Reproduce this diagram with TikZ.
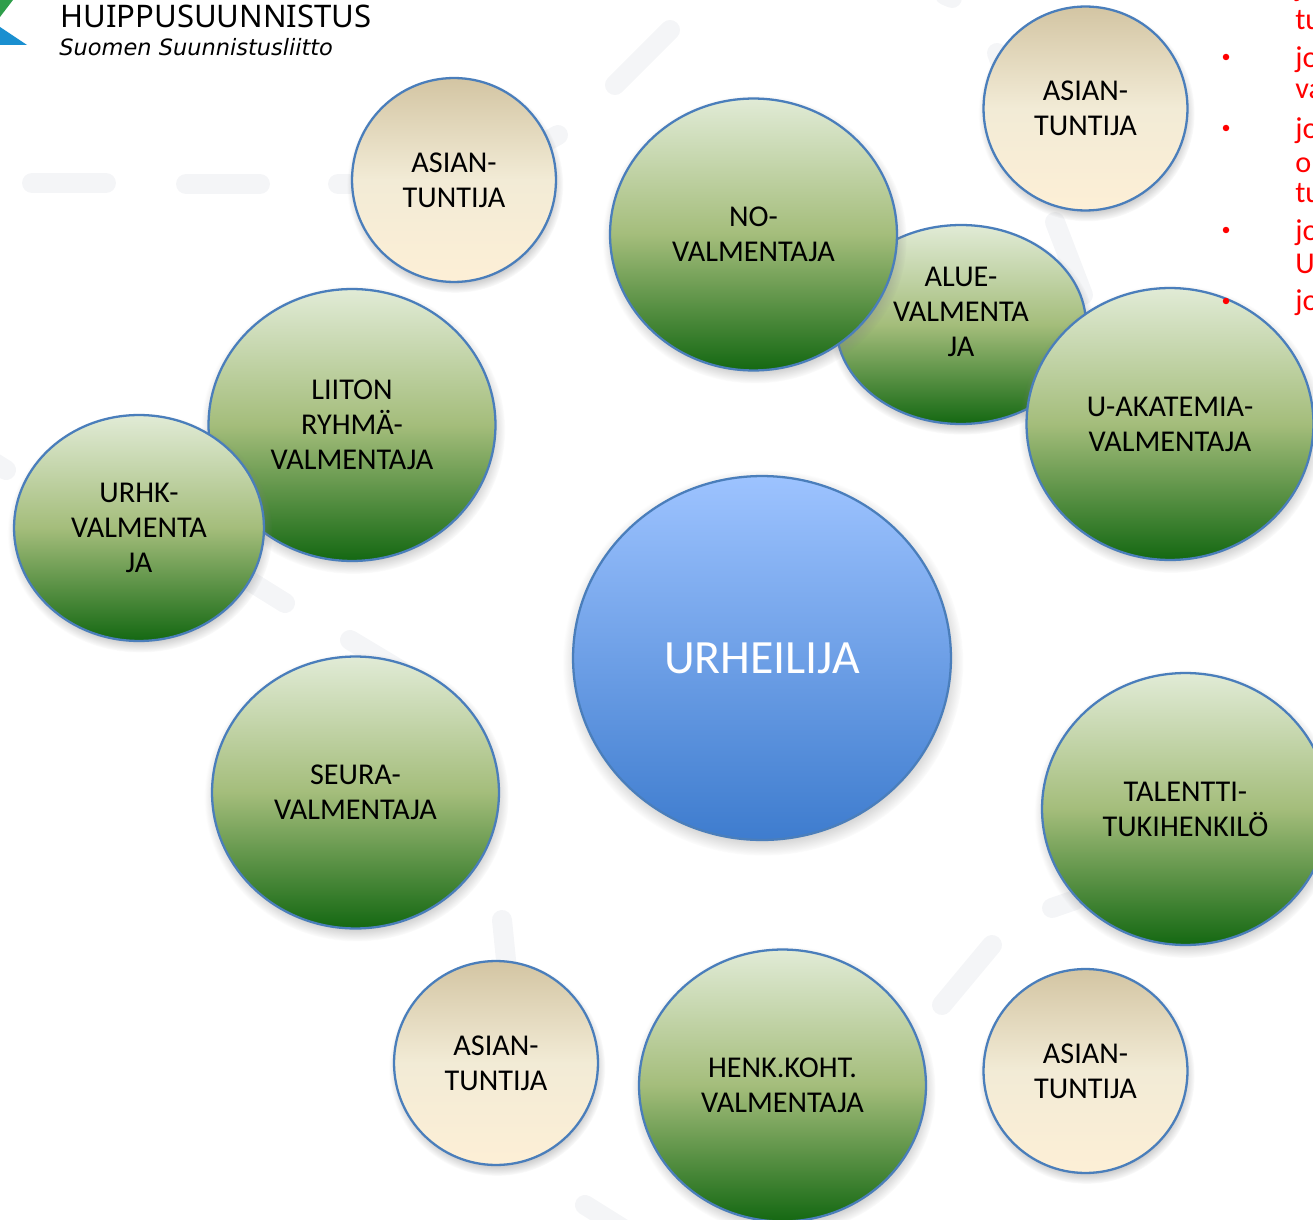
\documentclass[tikz,border=0pt]{standalone}
\usepackage{fontspec}
\setmainfont{Carlito}
\newfontfamily\logofont{Noto Sans}
\newfontfamily\logosub{DejaVu Sans}
\usetikzlibrary{shapes.geometric,shadows}
\definecolor{rimblue}{HTML}{4A7EBB}
\definecolor{faint}{HTML}{F4F5F7}
\definecolor{bulletred}{HTML}{FF0000}
\definecolor{greentop}{HTML}{E1EBD6}
\definecolor{greenmid}{HTML}{A4BD7B}
\definecolor{greenlow}{HTML}{146812}
\definecolor{sandtop}{HTML}{D3C5A3}
\definecolor{sandmid}{HTML}{F2EBD6}
\definecolor{sandlow}{HTML}{FDEFD6}
\definecolor{skytop}{HTML}{9DC3FF}
\definecolor{skylow}{HTML}{3E7CCE}
\definecolor{logogreen}{HTML}{2E9E4A}
\definecolor{logoblue}{HTML}{1A8FD0}
\tikzset{
	ball/.style={ellipse,draw=rimblue,line width=1.3pt,inner sep=0pt,align=center,text depth=-0.04cm,font=\fontsize{17.2}{19.9}\selectfont,
		circular drop shadow={shadow xshift=0.02cm,shadow yshift=-0.09cm,shadow scale=1.06,opacity=0.6}},
	green node/.style={ball,top color=greentop,bottom color=greenlow,middle color=greenmid},
	sand node/.style={ball,minimum width=4.08cm,minimum height=4.08cm,top color=sandtop,bottom color=sandlow,middle color=sandmid},
	blue node/.style={ball,top color=skytop,bottom color=skylow,text=white,font=\fontsize{27.2}{30}\selectfont},
	big node/.style={green node,minimum width=5.74cm,minimum height=5.44cm},
	faint dash/.style={draw=faint,line width=0.4cm,line cap=round},
	red text/.style={text=bulletred,anchor=west,inner sep=0pt,font=\fontsize{17.2}{20}\selectfont}
}
\begin{document}
\begin{tikzpicture}[x=0.02cm,y=-0.02cm]
	\useasboundingbox (0,0) rectangle (1313,1220);
	\clip (0,0) rectangle (1313,1220);
	
	% watermark
	\draw[faint dash] (32,183) -- (106,183);
	\draw[faint dash] (186,184) -- (260,184);
	\draw[faint dash] (338,184) -- (370,184);
	\draw[faint dash] (615,85) -- (670,30);
	\draw[faint dash] (540,145) -- (558,135);
	\draw[faint dash] (945,-5) -- (952,-2);
	\draw[faint dash] (997,53) -- (1010,90);
	\draw[faint dash] (1055,222) -- (1083,295);
	\draw[faint dash] (-10,460) -- (6,470);
	\draw[faint dash] (240,575) -- (285,603);
	\draw[faint dash] (350,640) -- (400,670);
	\draw[faint dash] (502,920) -- (507,970);
	\draw[faint dash] (942,1005) -- (992,945);
	\draw[faint dash] (1052,908) -- (1075,900);
	\draw[faint dash] (585,1205) -- (625,1230);
	
	% logo
	\fill[logogreen] (0,0) -- (13,0) -- (0,17) -- cycle;
	\fill[logoblue] (0,27) -- (27,45) -- (0,45) -- cycle;
	\node[anchor=west,inner sep=0pt,font=\logofont\fontsize{17.7}{18}\selectfont] (logo) at (60,16) {HUIPPUSUUNNISTUS};
	\node[anchor=west,inner sep=0pt,font=\logosub\itshape\fontsize{12.8}{13}\selectfont] (sub) at (59,47) {Suomen Suunnistusliitto};
	
	% red list, cut by the page edge
	\foreach \y/\t in {-11/j,20/tu,60/jo,91/va,131/jo,162/ol,193/tu,233/jo,264/U}
		\node[red text] at (1295,\y) {\t};
	\foreach \y in {57,128,230}
		\fill[bulletred] (1226,\y) circle (0.065cm);
	
	\node[sand node] (1) at (1085.5,108.5) {ASIAN-\\TUNTIJA};
	\node[sand node] (2) at (454,180) {ASIAN-\\TUNTIJA};
	\node[green node,minimum width=5cm,minimum height=3.98cm,text depth=0.52cm] (3) at (961,324.5) {ALUE-\\VALMENTA\\JA};
	\node[big node] (4) at (753.5,234.5) {NO-\\VALMENTAJA};
	\node[big node] (5) at (1170,424) {U-AKATEMIA-\\VALMENTAJA};
	\node[big node] (6) at (352,425) {LIITON\\RYHMÄ-\\VALMENTAJA};
	\node[green node,minimum width=5cm,minimum height=4.52cm] (7) at (139,528) {URHK-\\VALMENTA\\JA};
	\node[big node] (8) at (355.5,792.5) {SEURA-\\VALMENTAJA};
	\node[blue node,minimum width=7.56cm,minimum height=7.28cm] (9) at (762,658) {URHEILIJA};
	\node[big node] (10) at (1185.5,809) {TALENTTI-\\TUKIHENKILÖ};
	\node[big node] (11) at (782.5,1085.5) {HENK.KOHT.\\VALMENTAJA};
	\node[sand node] (12) at (496,1063) {ASIAN-\\TUNTIJA};
	\node[sand node] (13) at (1085.5,1071) {ASIAN-\\TUNTIJA};
	
	\fill[bulletred] (1226,301) circle (0.065cm);
	\node[red text] at (1295,303) {jo};
\end{tikzpicture}
\end{document}
